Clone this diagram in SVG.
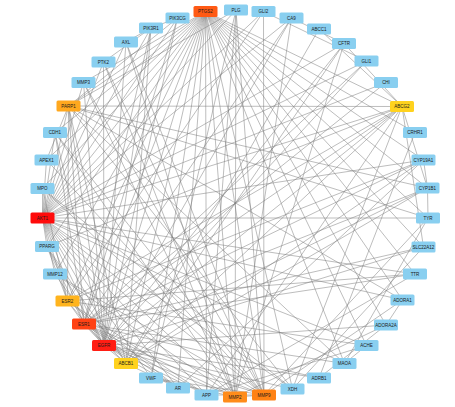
<svg xmlns="http://www.w3.org/2000/svg" width="455" height="407" viewBox="0 0 455 407">
<style>
.e line{stroke:#7a7a7a;stroke-width:0.5;fill:none}
rect{rx:1.5;ry:1.5;width:24px;height:11px}
.b{fill:#89CFF0}
.r1{fill:#FF0A0A}.r2{fill:#FF1E14}.r3{fill:#FF4214}.r4{fill:#FF5A14}
.o1{fill:#FF8214}.o2{fill:#FF8C1A}.o3{fill:#FFA81E}.o4{fill:#FFB41E}.y{fill:#FFD21E}
text{font-family:"Liberation Sans",Arial,sans-serif;font-size:4.5px;fill:#1a1a1a;text-anchor:middle;dominant-baseline:central}
</style>
<rect x="0" y="0" width="455" height="407" style="width:455px;height:407px;rx:0;ry:0" fill="#fff"/>
<g class="e" id="edges">
<!-- AKT1 -->
<line x1="42.5" y1="218" x2="205.5" y2="11.5"/><line x1="42.5" y1="218" x2="236" y2="10"/><line x1="42.5" y1="218" x2="104" y2="345.5"/><line x1="42.5" y1="218" x2="84" y2="324"/><line x1="42.5" y1="218" x2="67.5" y2="301"/><line x1="42.5" y1="218" x2="264" y2="395"/><line x1="42.5" y1="218" x2="235" y2="397"/><line x1="42.5" y1="218" x2="68.5" y2="106"/><line x1="42.5" y1="218" x2="47" y2="246.5"/><line x1="42.5" y1="218" x2="42.5" y2="188.5"/><line x1="42.5" y1="218" x2="46.5" y2="160"/><line x1="42.5" y1="218" x2="55" y2="132.5"/><line x1="42.5" y1="218" x2="83.5" y2="82.5"/><line x1="42.5" y1="218" x2="103.5" y2="62"/><line x1="42.5" y1="218" x2="126" y2="42"/><line x1="42.5" y1="218" x2="151" y2="28"/><line x1="42.5" y1="218" x2="177.5" y2="18"/><line x1="42.5" y1="218" x2="428" y2="218"/><line x1="42.5" y1="218" x2="178" y2="388"/><line x1="42.5" y1="218" x2="206.5" y2="395"/><line x1="42.5" y1="218" x2="126" y2="363.5"/><line x1="42.5" y1="218" x2="402" y2="106.5"/><line x1="42.5" y1="218" x2="423.5" y2="160"/><line x1="42.5" y1="218" x2="366.5" y2="61"/><line x1="42.5" y1="218" x2="263.5" y2="11.5"/><line x1="42.5" y1="218" x2="291.5" y2="18"/><line x1="42.5" y1="218" x2="344" y2="43.5"/><line x1="42.5" y1="218" x2="402.5" y2="300"/><line x1="42.5" y1="218" x2="366.5" y2="345.5"/><line x1="42.5" y1="218" x2="292.5" y2="389"/><line x1="42.5" y1="218" x2="344.5" y2="363.5"/><line x1="42.5" y1="218" x2="415" y2="274"/><line x1="42.5" y1="218" x2="151" y2="378"/><line x1="42.5" y1="218" x2="55" y2="274"/><line x1="42.5" y1="218" x2="386" y2="82.5"/>
<!-- EGFR -->
<line x1="104" y1="345.5" x2="205.5" y2="11.5"/><line x1="104" y1="345.5" x2="84" y2="324"/><line x1="104" y1="345.5" x2="67.5" y2="301"/><line x1="104" y1="345.5" x2="264" y2="395"/><line x1="104" y1="345.5" x2="235" y2="397"/><line x1="104" y1="345.5" x2="68.5" y2="106"/><line x1="104" y1="345.5" x2="103.5" y2="62"/><line x1="104" y1="345.5" x2="126" y2="42"/><line x1="104" y1="345.5" x2="151" y2="28"/><line x1="104" y1="345.5" x2="177.5" y2="18"/><line x1="104" y1="345.5" x2="55" y2="132.5"/><line x1="104" y1="345.5" x2="178" y2="388"/><line x1="104" y1="345.5" x2="126" y2="363.5"/><line x1="104" y1="345.5" x2="402" y2="106.5"/><line x1="104" y1="345.5" x2="206.5" y2="395"/><line x1="104" y1="345.5" x2="291.5" y2="18"/><line x1="104" y1="345.5" x2="47" y2="246.5"/><line x1="104" y1="345.5" x2="83.5" y2="82.5"/><line x1="104" y1="345.5" x2="366.5" y2="61"/><line x1="104" y1="345.5" x2="427.5" y2="188"/><line x1="104" y1="345.5" x2="344" y2="43.5"/><line x1="104" y1="345.5" x2="319" y2="378"/><line x1="104" y1="345.5" x2="292.5" y2="389"/><line x1="104" y1="345.5" x2="55" y2="274"/><line x1="104" y1="345.5" x2="386" y2="325"/><line x1="104" y1="345.5" x2="423.5" y2="247"/>
<!-- PTGS2 -->
<line x1="205.5" y1="11.5" x2="84" y2="324"/><line x1="205.5" y1="11.5" x2="67.5" y2="301"/><line x1="205.5" y1="11.5" x2="264" y2="395"/><line x1="205.5" y1="11.5" x2="235" y2="397"/><line x1="205.5" y1="11.5" x2="68.5" y2="106"/><line x1="205.5" y1="11.5" x2="47" y2="246.5"/><line x1="205.5" y1="11.5" x2="42.5" y2="188.5"/><line x1="205.5" y1="11.5" x2="46.5" y2="160"/><line x1="205.5" y1="11.5" x2="292.5" y2="389"/><line x1="205.5" y1="11.5" x2="366.5" y2="345.5"/><line x1="205.5" y1="11.5" x2="423.5" y2="160"/><line x1="205.5" y1="11.5" x2="427.5" y2="188"/><line x1="205.5" y1="11.5" x2="428" y2="218"/><line x1="205.5" y1="11.5" x2="402.5" y2="300"/><line x1="205.5" y1="11.5" x2="386" y2="325"/><line x1="205.5" y1="11.5" x2="344.5" y2="363.5"/><line x1="205.5" y1="11.5" x2="206.5" y2="395"/><line x1="205.5" y1="11.5" x2="178" y2="388"/><line x1="205.5" y1="11.5" x2="126" y2="363.5"/><line x1="205.5" y1="11.5" x2="402" y2="106.5"/><line x1="205.5" y1="11.5" x2="151" y2="378"/><line x1="205.5" y1="11.5" x2="55" y2="274"/><line x1="205.5" y1="11.5" x2="83.5" y2="82.5"/><line x1="205.5" y1="11.5" x2="55" y2="132.5"/><line x1="205.5" y1="11.5" x2="415" y2="274"/><line x1="205.5" y1="11.5" x2="423.5" y2="247"/><line x1="205.5" y1="11.5" x2="415" y2="132.5"/>
<!-- ESR1 -->
<line x1="84" y1="324" x2="67.5" y2="301"/><line x1="84" y1="324" x2="178" y2="388"/><line x1="84" y1="324" x2="423.5" y2="160"/><line x1="84" y1="324" x2="427.5" y2="188"/><line x1="84" y1="324" x2="47" y2="246.5"/><line x1="84" y1="324" x2="264" y2="395"/><line x1="84" y1="324" x2="235" y2="397"/><line x1="84" y1="324" x2="126" y2="363.5"/><line x1="84" y1="324" x2="402" y2="106.5"/><line x1="84" y1="324" x2="68.5" y2="106"/><line x1="84" y1="324" x2="206.5" y2="395"/><line x1="84" y1="324" x2="415" y2="274"/><line x1="84" y1="324" x2="423.5" y2="247"/><line x1="84" y1="324" x2="366.5" y2="61"/><line x1="84" y1="324" x2="291.5" y2="18"/><line x1="84" y1="324" x2="386" y2="82.5"/><line x1="84" y1="324" x2="319" y2="378"/><line x1="84" y1="324" x2="344.5" y2="363.5"/><line x1="84" y1="324" x2="151" y2="28"/><line x1="84" y1="324" x2="177.5" y2="18"/><line x1="84" y1="324" x2="55" y2="132.5"/>
<!-- MMP9 -->
<line x1="264" y1="395" x2="235" y2="397"/><line x1="264" y1="395" x2="83.5" y2="82.5"/><line x1="264" y1="395" x2="55" y2="274"/><line x1="264" y1="395" x2="55" y2="132.5"/><line x1="264" y1="395" x2="103.5" y2="62"/><line x1="264" y1="395" x2="206.5" y2="395"/><line x1="264" y1="395" x2="236" y2="10"/><line x1="264" y1="395" x2="151" y2="378"/><line x1="264" y1="395" x2="46.5" y2="160"/><line x1="264" y1="395" x2="42.5" y2="188.5"/><line x1="264" y1="395" x2="402.5" y2="300"/><line x1="264" y1="395" x2="428" y2="218"/><line x1="264" y1="395" x2="263.5" y2="11.5"/><line x1="264" y1="395" x2="126" y2="42"/>
<!-- MMP2 -->
<line x1="235" y1="397" x2="83.5" y2="82.5"/><line x1="235" y1="397" x2="55" y2="274"/><line x1="235" y1="397" x2="236" y2="10"/><line x1="235" y1="397" x2="103.5" y2="62"/><line x1="235" y1="397" x2="55" y2="132.5"/><line x1="235" y1="397" x2="291.5" y2="18"/><line x1="235" y1="397" x2="126" y2="42"/><line x1="235" y1="397" x2="151" y2="378"/><line x1="235" y1="397" x2="344" y2="43.5"/><line x1="235" y1="397" x2="386" y2="325"/>
<!-- PARP1 -->
<line x1="68.5" y1="106" x2="402" y2="106.5"/><line x1="68.5" y1="106" x2="46.5" y2="160"/><line x1="68.5" y1="106" x2="126" y2="363.5"/><line x1="68.5" y1="106" x2="67.5" y2="301"/><line x1="68.5" y1="106" x2="177.5" y2="18"/><line x1="68.5" y1="106" x2="292.5" y2="389"/><line x1="68.5" y1="106" x2="427.5" y2="188"/><line x1="68.5" y1="106" x2="428" y2="218"/><line x1="68.5" y1="106" x2="402.5" y2="300"/><line x1="68.5" y1="106" x2="236" y2="10"/><line x1="68.5" y1="106" x2="344.5" y2="363.5"/>
<!-- ABCB1 -->
<line x1="126" y1="363.5" x2="402" y2="106.5"/><line x1="126" y1="363.5" x2="319" y2="29"/><line x1="126" y1="363.5" x2="344" y2="43.5"/><line x1="126" y1="363.5" x2="423.5" y2="160"/><line x1="126" y1="363.5" x2="427.5" y2="188"/><line x1="126" y1="363.5" x2="47" y2="246.5"/><line x1="126" y1="363.5" x2="178" y2="388"/><line x1="126" y1="363.5" x2="151" y2="28"/>
<!-- ABCG2 -->
<line x1="402" y1="106.5" x2="319" y2="29"/><line x1="402" y1="106.5" x2="344" y2="43.5"/><line x1="402" y1="106.5" x2="67.5" y2="301"/><line x1="402" y1="106.5" x2="427.5" y2="188"/><line x1="402" y1="106.5" x2="47" y2="246.5"/><line x1="402" y1="106.5" x2="206.5" y2="395"/><line x1="402" y1="106.5" x2="292.5" y2="389"/><line x1="402" y1="106.5" x2="423.5" y2="247"/>
<!-- ESR2 -->
<line x1="67.5" y1="301" x2="178" y2="388"/><line x1="67.5" y1="301" x2="423.5" y2="160"/><line x1="67.5" y1="301" x2="47" y2="246.5"/><line x1="67.5" y1="301" x2="206.5" y2="395"/><line x1="67.5" y1="301" x2="263.5" y2="11.5"/><line x1="67.5" y1="301" x2="415" y2="274"/><line x1="67.5" y1="301" x2="366.5" y2="345.5"/><line x1="67.5" y1="301" x2="42.5" y2="188.5"/>
<!-- others -->
<line x1="366.5" y1="345.5" x2="344.5" y2="363.5"/><line x1="366.5" y1="345.5" x2="206.5" y2="395"/><line x1="402.5" y1="300" x2="386" y2="325"/><line x1="319" y1="378" x2="386" y2="325"/><line x1="292.5" y1="389" x2="42.5" y2="188.5"/><line x1="236" y1="10" x2="151" y2="378"/><line x1="236" y1="10" x2="206.5" y2="395"/><line x1="366.5" y1="61" x2="263.5" y2="11.5"/><line x1="291.5" y1="18" x2="344" y2="43.5"/><line x1="415" y1="132.5" x2="319" y2="378"/><line x1="415" y1="274" x2="206.5" y2="395"/><line x1="178" y1="388" x2="423.5" y2="160"/><line x1="423.5" y1="160" x2="427.5" y2="188"/><line x1="151" y1="28" x2="177.5" y2="18"/><line x1="103.5" y1="62" x2="151" y2="28"/><line x1="126" y1="42" x2="151" y2="28"/><line x1="423.5" y1="247" x2="292.5" y2="389"/><line x1="427.5" y1="188" x2="428" y2="218"/><line x1="344.5" y1="363.5" x2="428" y2="218"/>
</g>
<g id="n-PTGS2"><rect class="r4" x="193.5" y="6"/><text x="205.5" y="11.5">PTGS2</text></g>
<g id="n-PLG"><rect class="b" x="224" y="4.5"/><text x="236" y="10">PLG</text></g>
<g id="n-GLI2"><rect class="b" x="251.5" y="6"/><text x="263.5" y="11.5">GLI2</text></g>
<g id="n-CA9"><rect class="b" x="279.5" y="12.5"/><text x="291.5" y="18">CA9</text></g>
<g id="n-ABCC1"><rect class="b" x="307" y="23.5"/><text x="319" y="29">ABCC1</text></g>
<g id="n-CFTR"><rect class="b" x="332" y="38"/><text x="344" y="43.5">CFTR</text></g>
<g id="n-GLI1"><rect class="b" x="354.5" y="55.5"/><text x="366.5" y="61">GLI1</text></g>
<g id="n-CHI"><rect class="b" x="374" y="77"/><text x="386" y="82.5">CHI</text></g>
<g id="n-ABCG2"><rect class="y" x="390" y="101"/><text x="402" y="106.5">ABCG2</text></g>
<g id="n-CRHR1"><rect class="b" x="403" y="127"/><text x="415" y="132.5">CRHR1</text></g>
<g id="n-CYP19A1"><rect class="b" x="411.5" y="154.5"/><text x="423.5" y="160">CYP19A1</text></g>
<g id="n-CYP1B1"><rect class="b" x="415.5" y="182.5"/><text x="427.5" y="188">CYP1B1</text></g>
<g id="n-TYR"><rect class="b" x="416" y="212.5"/><text x="428" y="218">TYR</text></g>
<g id="n-SLC22A12"><rect class="b" x="411.5" y="241.5"/><text x="423.5" y="247">SLC22A12</text></g>
<g id="n-TTR"><rect class="b" x="403" y="268.5"/><text x="415" y="274">TTR</text></g>
<g id="n-ADORA1"><rect class="b" x="390.5" y="294.5"/><text x="402.5" y="300">ADORA1</text></g>
<g id="n-ADORA2A"><rect class="b" x="374" y="319.5"/><text x="386" y="325">ADORA2A</text></g>
<g id="n-ACHE"><rect class="b" x="354.5" y="340"/><text x="366.5" y="345.5">ACHE</text></g>
<g id="n-MAOA"><rect class="b" x="332.5" y="358"/><text x="344.5" y="363.5">MAOA</text></g>
<g id="n-ADRB1"><rect class="b" x="307" y="372.5"/><text x="319" y="378">ADRB1</text></g>
<g id="n-XDH"><rect class="b" x="280.5" y="383.5"/><text x="292.5" y="389">XDH</text></g>
<g id="n-MMP9"><rect class="o1" x="252" y="389.5"/><text x="264" y="395">MMP9</text></g>
<g id="n-MMP2"><rect class="o2" x="223" y="391.5"/><text x="235" y="397">MMP2</text></g>
<g id="n-APP"><rect class="b" x="194.5" y="389.5"/><text x="206.5" y="395">APP</text></g>
<g id="n-AR"><rect class="b" x="166" y="382.5"/><text x="178" y="388">AR</text></g>
<g id="n-VWF"><rect class="b" x="139" y="372.5"/><text x="151" y="378">VWF</text></g>
<g id="n-ABCB1"><rect class="y" x="114" y="358"/><text x="126" y="363.5">ABCB1</text></g>
<g id="n-EGFR"><rect class="r2" x="92" y="340"/><text x="104" y="345.5">EGFR</text></g>
<g id="n-ESR1"><rect class="r3" x="72" y="318.5"/><text x="84" y="324">ESR1</text></g>
<g id="n-ESR2"><rect class="o4" x="55.5" y="295.5"/><text x="67.5" y="301">ESR2</text></g>
<g id="n-MMP12"><rect class="b" x="43" y="268.5"/><text x="55" y="274">MMP12</text></g>
<g id="n-PPARG"><rect class="b" x="35" y="241"/><text x="47" y="246.5">PPARG</text></g>
<g id="n-AKT1"><rect class="r1" x="30.5" y="212.5"/><text x="42.5" y="218">AKT1</text></g>
<g id="n-MPO"><rect class="b" x="30.5" y="183"/><text x="42.5" y="188.5">MPO</text></g>
<g id="n-APEX1"><rect class="b" x="34.5" y="154.5"/><text x="46.5" y="160">APEX1</text></g>
<g id="n-CDH1"><rect class="b" x="43" y="127"/><text x="55" y="132.5">CDH1</text></g>
<g id="n-PARP1"><rect class="o3" x="56.5" y="100.5"/><text x="68.5" y="106">PARP1</text></g>
<g id="n-MMP3"><rect class="b" x="71.5" y="77"/><text x="83.5" y="82.5">MMP3</text></g>
<g id="n-PTK2"><rect class="b" x="91.5" y="56.5"/><text x="103.5" y="62">PTK2</text></g>
<g id="n-AXL"><rect class="b" x="114" y="36.5"/><text x="126" y="42">AXL</text></g>
<g id="n-PIK3R1"><rect class="b" x="139" y="22.5"/><text x="151" y="28">PIK3R1</text></g>
<g id="n-PIK3CG"><rect class="b" x="165.5" y="12.5"/><text x="177.5" y="18">PIK3CG</text></g>
</svg>
